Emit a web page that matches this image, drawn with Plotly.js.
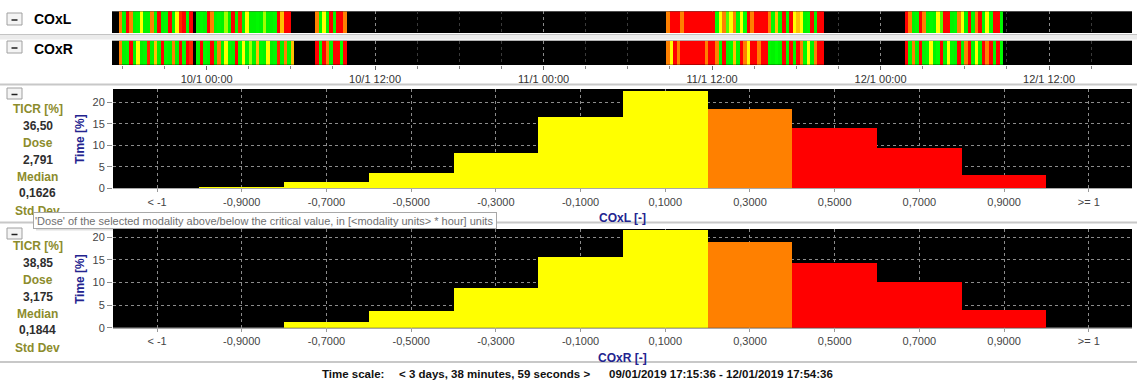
<!DOCTYPE html>
<html><head><meta charset="utf-8">
<script src="https://cdn.plot.ly/plotly-3.0.1.min.js"></script>
<style>html,body{margin:0;padding:0;background:#fff;overflow:hidden}#chart{width:1137px;height:380px}</style>
</head><body><div id="chart"></div>
<script>
// ---------------- DATA ----------------
const timeStart = '2019-01-09 17:15:36';
const timeEnd = '2019-01-12 17:54:36';
const gridStart = '2019-01-09T17:15:00Z';
const sampleMinutes = 15;

// COxL strip: segment start times and sampled COx values (15 min)
const coxLStarts = ['2019-01-09T17:45:00Z','2019-01-09T23:15:00Z','2019-01-10T07:45:00Z','2019-01-11T08:45:00Z','2019-01-12T01:45:00Z'];
const coxL1 = [0.3,-0.3,0.5,0.3,-0.4,-0.3,0.1,-0.4,-0.4,0.3,-0.3,0.6,-0.4,-0.3,0.5,-0.4,0.1,0.4,0.6,-0.3,0.5];
const coxL2 = [-0.4,-0.3,-0.4,0.6,0.3,-0.4,-0.3,-0.4,0.0,-0.4,0.5,-0.3,0.4,-0.4,0.1,-0.4,-0.4,-0.3,-0.4,0.0,-0.4,-0.4,-0.3,0.6,0.2,0.6,0.5];
const coxL3 = [0.3,-0.3,0.1,-0.4,0.6,-0.3,0.6,0.5,0.3];
const coxL4 = [0.3,0.6,0.5,0.6,0.3,0.6,0.6,0.5,0.6,0.6,0.6,0.6,0.5,0.6,-0.2,0.1,0.3,-0.1,0.1,0.3,-0.3,0.1,-0.2,0.6,0.3,0.6,0.6,0.6,0.6,0.3,-0.3,0.2,-0.4,0.6,-0.3,0.5,0.1,0.2,0.1,-0.4,-0.3,0.6,-0.4,0.5,0.6];
const coxL5 = [0.6,0.3,-0.4,-0.3,0.6,0.3,-0.4,-0.3,-0.4,0.1,-0.1,0.6,0.5,-0.4,-0.3,0.3,0.1,-0.4,0.6,-0.3,0.3,0.6,-0.3,0.1,-0.2,0.6,0.6,-0.3];

// COxR strip
const coxRStarts = ['2019-01-09T17:45:00Z','2019-01-09T23:15:00Z','2019-01-10T07:45:00Z','2019-01-11T08:45:00Z','2019-01-12T01:45:00Z'];
const coxR1 = [0.3,-0.4,-0.3,0.5,-0.4,0.1,-0.4,-0.3,0.4,-0.4,0.2,-0.4,0.6,-0.3,-0.4,0.3,-0.4,0.5,-0.2,0.6,0.4];
const coxR2 = [-0.4,0.5,-0.3,-0.4,0.6,-0.4,0.3,-0.4,0.1,-0.3,-0.4,0.6,-0.2,0.1,-0.4,0.0,-0.4,0.2,-0.3,-0.4,0.1,-0.4,-0.3,0.4,-0.4,0.3,-0.3,0.2];
const coxR3 = [0.6,-0.3,0.5,0.3,-0.4,0.6,0.5,-0.2,0.6];
const coxR4 = [0.3,0.1,0.6,0.3,0.6,0.6,0.5,0.6,0.6,0.6,0.6,0.3,0.6,0.5,0.3,-0.3,0.6,-0.4,-0.3,0.2,-0.4,0.6,0.3,0.1,0.6,0.6,0.3,0.6,0.6,-0.3,-0.4,-0.2,-0.4,0.6,-0.3,0.5,-0.4,0.6,0.3,-0.3,0.1,-0.4,0.3,0.6,0.5];
const coxR5 = [0.6,-0.3,0.3,-0.4,0.6,-0.4,-0.3,0.1,-0.4,-0.2,0.6,-0.4,0.1,-0.3,-0.4,0.5,-0.4,0.3,0.6,-0.3,0.1,-0.4,0.6,0.3,0.6,-0.3,0.5,-0.2];

// Histograms
const histCategories = ['< -1','-0,9000','-0,7000','-0,5000','-0,3000','-0,1000','0,1000','0,3000','0,5000','0,7000','0,9000','>= 1'];
const histL = [0, 0.35, 1.5, 3.6, 8.3, 16.5, 22.6, 18.4, 14.1, 9.3, 3.1, 0];
const histR = [0, 0, 1.3, 3.7, 8.8, 15.6, 21.6, 18.9, 14.4, 10.2, 3.9, 0];

// Side statistics
const statNames = ['TICR [%]','Dose','Median','Std Dev'];
const statsL = ['36,50','2,791','0,1626'];
const statsR = ['38,85','3,175','0,1844'];

const stripNames = ['COxL','COxR'];
const axisTitlesX = ['COxL [-]','COxR [-]'];
const axisTitleY = 'Time [%]';
const tooltipText = "'Dose' of the selected modality above/below the critical value, in [&lt;modality units&gt; * hour] units";
const timeScaleLabel = 'Time scale:';
const timeScaleSpan = '&lt; 3 days, 38 minutes, 59 seconds &gt;';
const timeScaleRange = '09/01/2019 17:15:36 - 12/01/2019 17:54:36';

// ---------------- STYLE ----------------
const histColors = ['#ffff00','#ffff00','#ffff00','#ffff00','#ffff00','#ffff00','#ffff00','#ff8000','#ff0000','#ff0000','#ff0000','#ff0000'];
const W = 1137, H = 380;
const px = v => v / W, py = v => 1 - v / H;
const FONT = 'Liberation Sans, Arial, sans-serif';

function msToStr(ms){ return new Date(ms).toISOString().replace('T',' ').slice(0,19); }
function buildStrip(starts, segs){
  const g0 = Date.parse(gridStart), step = sampleMinutes*60000;
  const n = Math.ceil((Date.parse(timeEnd.replace(' ','T')+'Z') - g0)/step);
  const z = new Array(n).fill(null);
  segs.forEach((seg,k)=>{
    const i0 = Math.round((Date.parse(starts[k]) - g0)/step);
    seg.forEach((v,j)=>{ if(i0+j<n) z[i0+j]=v; });
  });
  const x = [];
  for(let i=0;i<=n;i++) x.push(msToStr(g0 + i*step));
  return {x, z:[z]};
}
const sL = buildStrip(coxLStarts,[coxL1,coxL2,coxL3,coxL4,coxL5]);
const sR = buildStrip(coxRStarts,[coxR1,coxR2,coxR3,coxR4,coxR5]);
const cscale = [[0,'#00d000'],[0.4,'#00ff00'],[0.5,'#a0ff00'],[0.55,'#ffff00'],[0.65,'#ff8000'],[0.72,'#ff0000'],[1,'#ff0000']];

const traces = [
  {type:'heatmap', x:sL.x, y:[0,1], z:sL.z, zmin:-1, zmax:1, colorscale:cscale, showscale:false, xaxis:'x', yaxis:'y', hoverinfo:'skip'},
  {type:'heatmap', x:sR.x, y:[0,1], z:sR.z, zmin:-1, zmax:1, colorscale:cscale, showscale:false, xaxis:'x2', yaxis:'y2', hoverinfo:'skip'},
  {type:'bar', x:histCategories, y:histL, marker:{color:histColors, line:{width:0}}, width:1, xaxis:'x3', yaxis:'y3', hoverinfo:'skip'},
  {type:'bar', x:histCategories, y:histR, marker:{color:histColors, line:{width:0}}, width:1, xaxis:'x4', yaxis:'y4', hoverinfo:'skip'}
];

const stripX = {
  type:'date', range:[timeStart,timeEnd], domain:[px(112),px(1132)],
  tick0:'2019-01-10 00:00', dtick:12*3600000, tickformat:'%-d/%-m %H:%M',
  showgrid:true, gridcolor:'#8c8c8c', griddash:'dot', gridwidth:1, zeroline:false, showline:false,
  minor:{tick0:'2019-01-10 00:00', dtick:3*3600000, showgrid:true, gridcolor:'#3a3a3a', gridwidth:1},
  tickfont:{family:FONT,size:11,color:'#333'}, fixedrange:true
};
const histX = {
  type:'category', categoryorder:'array', categoryarray:histCategories, range:[-0.52,11.51], domain:[px(113),px(1132)],
  showgrid:true, gridcolor:'#8c8c8c', griddash:'dot', gridwidth:1, ticks:'outside', ticklen:3, tickcolor:'#9a9a9a',
  showline:true, linecolor:'#a8a8a8', linewidth:1, tickfont:{family:FONT,size:11,color:'#444'}, fixedrange:true
};
const histY = {
  tickvals:[0,5,10,15,20], showgrid:true, gridcolor:'#8c8c8c', griddash:'dot', gridwidth:1, zeroline:false,
  ticks:'outside', ticklen:5, tickcolor:'#8a8a8a', tickfont:{family:FONT,size:11,color:'#444'}, showline:false, fixedrange:true
};

const layout = {
  width:W, height:H, margin:{l:0,r:0,t:0,b:0}, paper_bgcolor:'#ffffff', plot_bgcolor:'#000000',
  showlegend:false, bargap:0, font:{family:FONT},
  xaxis: Object.assign({}, stripX, {anchor:'y', showticklabels:false, ticks:''}),
  yaxis: {domain:[py(33),py(11.3)], range:[0,1], visible:false, fixedrange:true},
  xaxis2: Object.assign({}, stripX, {anchor:'y2', showticklabels:true, ticks:'outside', ticklen:4, tickcolor:'#666',
      minor:Object.assign({}, stripX.minor, {ticks:'outside', ticklen:3, tickcolor:'#888'})}),
  yaxis2: {domain:[py(65),py(40.7)], range:[0,1], visible:false, fixedrange:true},
  xaxis3: Object.assign({}, histX, {anchor:'y3'}),
  yaxis3: Object.assign({}, histY, {anchor:'x3', domain:[py(188.3),py(89)], range:[0,23.1]}),
  xaxis4: Object.assign({}, histX, {anchor:'y4'}),
  yaxis4: Object.assign({}, histY, {anchor:'x4', domain:[py(327.7),py(229)], range:[0,21.84]}),
  shapes:[], annotations:[]
};

const S = layout.shapes, A = layout.annotations;
// separators
S.push({type:'rect', xref:'paper', yref:'paper', x0:0, x1:1, y0:py(39.5), y1:py(34), fillcolor:'#ebebeb', line:{width:0}});
S.push({type:'line', xref:'paper', yref:'paper', x0:0, x1:1, y0:py(34.5), y1:py(34.5), line:{color:'#c4c4c4', width:1}});
[84.5, 222.5, 362].forEach(y=>{
  S.push({type:'line', xref:'paper', yref:'paper', x0:0, x1:1, y0:py(y), y1:py(y), line:{color:'#c8c8c8', width:2}});
});
// small buttons
[[13,25],[41,53],[88,99],[228,239]].forEach(([t,b])=>{
  S.push({type:'rect', xref:'paper', yref:'paper', x0:px(7), x1:px(22), y0:py(b), y1:py(t), fillcolor:'#f4f4f4', line:{color:'#a0a0a0', width:1}});
  S.push({type:'line', xref:'paper', yref:'paper', x0:px(11.5), x1:px(17.5), y0:py((t+b)/2+1), y1:py((t+b)/2+1), line:{color:'#222', width:1.5}});
});
// tooltip shadow
S.push({type:'rect', xref:'paper', yref:'paper', x0:px(36), x1:px(497), y0:py(230.5), y1:py(216), fillcolor:'rgba(0,0,0,0.13)', line:{width:0}});

function ann(text, x, y, o){
  o = o || {};
  A.push({text, xref:'paper', yref:'paper', x:px(x), y:py(y), xanchor:o.xa||'center', yanchor:'middle', showarrow:false,
    font:{family:FONT, size:o.size||12, color:o.color||'#000'}, textangle:o.angle||0});
}
// strip labels
ann('<b>'+stripNames[0]+'</b>', 32, 19.5, {xa:'left', size:14});
ann('<b>'+stripNames[1]+'</b>', 32, 48.5, {xa:'left', size:14});

const OLIVE = '#8c8c2c', DARK = '#2e2e2e', NAVY = '#23238f';
function stats(vals, y0){
  const ys = [0,16.7,34.3,51,67.7,84.3,102].map(d=>y0+d);
  ann('<b>'+statNames[0]+'</b>', 37.5, ys[0], {color:OLIVE});
  ann('<b>'+vals[0]+'</b>', 37.5, ys[1], {color:DARK});
  ann('<b>'+statNames[1]+'</b>', 37.5, ys[2], {color:OLIVE});
  ann('<b>'+vals[1]+'</b>', 37.5, ys[3], {color:DARK});
  ann('<b>'+statNames[2]+'</b>', 37.5, ys[4], {color:OLIVE});
  ann('<b>'+vals[2]+'</b>', 37.5, ys[5], {color:DARK});
  ann('<b>'+statNames[3]+'</b>', 37.5, ys[6], {color:OLIVE});
}
stats(statsL, 109);
stats(statsR, 246);
// axis titles
ann('<b>'+axisTitleY+'</b>', 80, 139, {angle:-90, color:NAVY});
ann('<b>'+axisTitleY+'</b>', 80, 279, {angle:-90, color:NAVY});
ann('<b>'+axisTitlesX[0]+'</b>', 622.5, 218, {color:NAVY});
ann('<b>'+axisTitlesX[1]+'</b>', 622.5, 357.5, {color:NAVY});
// bottom time scale
ann('<b>'+timeScaleLabel+'</b>', 320, 374, {xa:'left', size:11.5, color:'#111'});
ann('<b>'+timeScaleSpan+'</b>', 397, 374, {xa:'left', size:11.5, color:'#111'});
ann('<b>'+timeScaleRange+'</b>', 607, 374, {xa:'left', size:11.5, color:'#111'});
// tooltip (drawn last so it covers "Std Dev" as in the reference)
A.push({text:tooltipText, xref:'paper', yref:'paper', x:px(33), y:py(220.5), xanchor:'left', yanchor:'middle', showarrow:false,
  font:{family:FONT, size:11, color:'#707070'}, bgcolor:'#ffffff', bordercolor:'#a8a8a8', borderwidth:1, borderpad:1,
  width:460, height:13, align:'left'});

Plotly.newPlot('chart', traces, layout, {staticPlot:true, displayModeBar:false});
</script>
</body></html>
